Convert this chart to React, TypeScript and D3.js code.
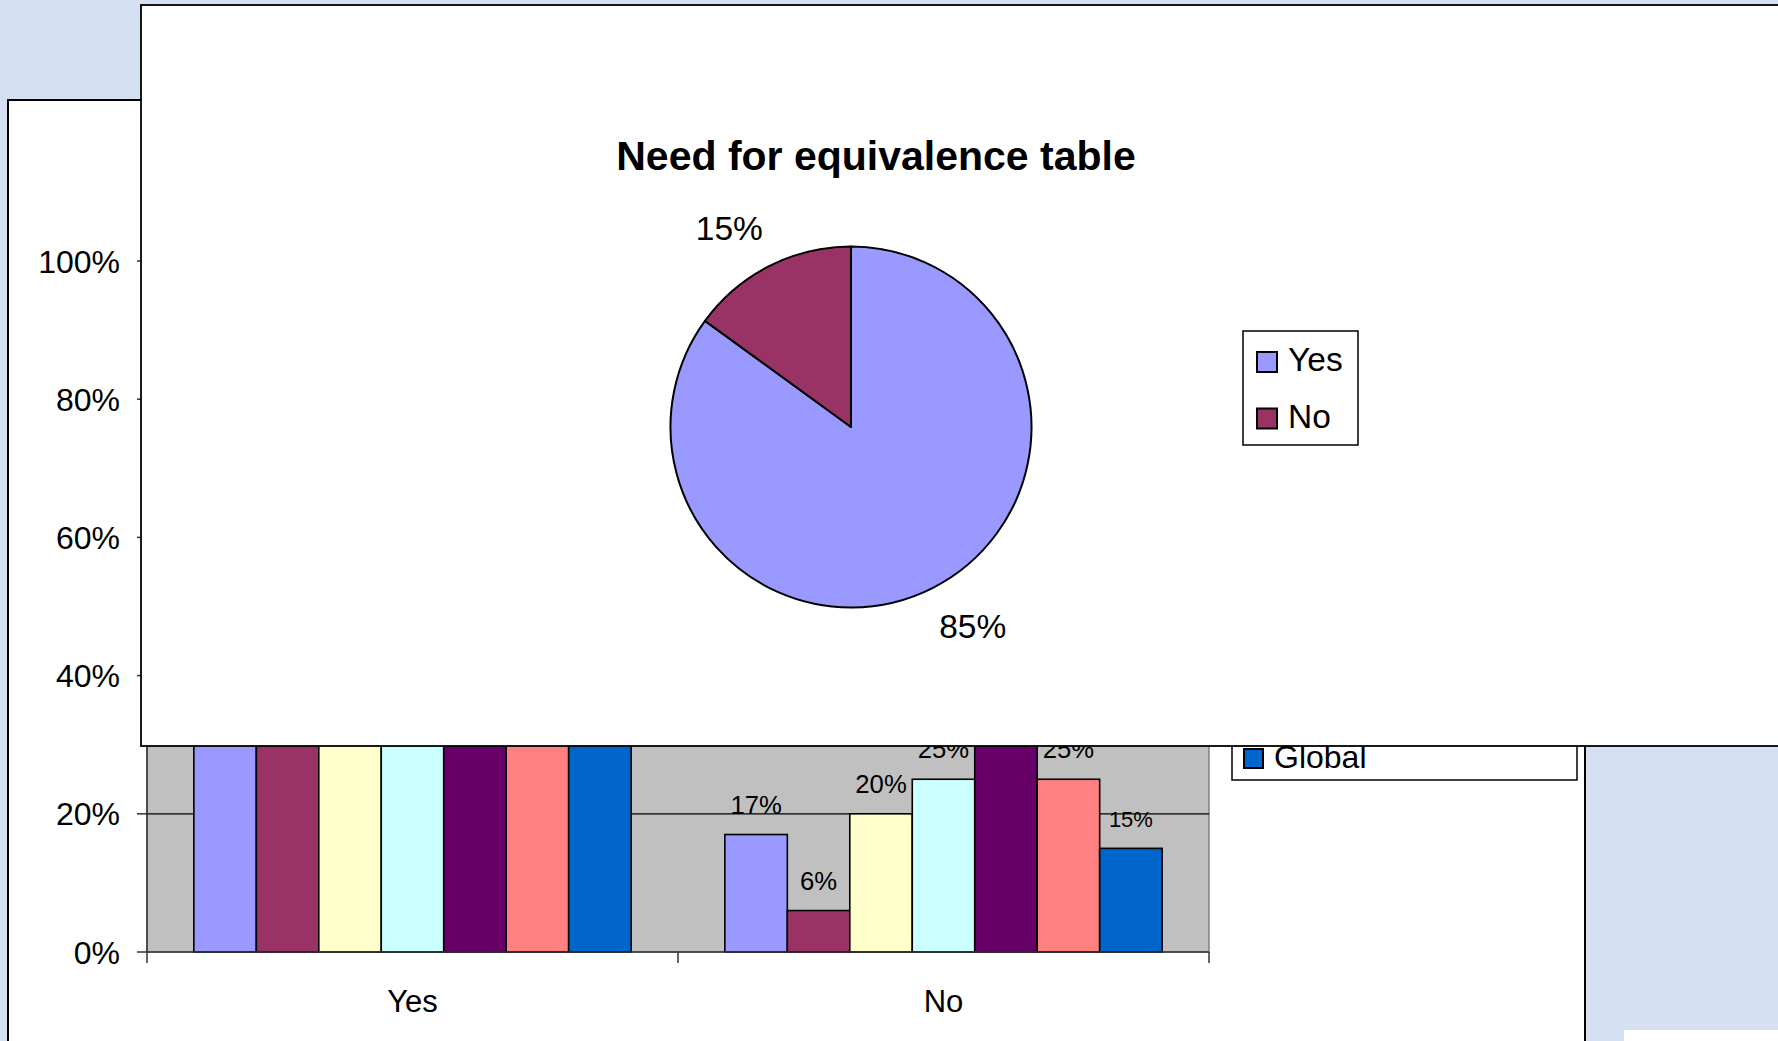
import React from "react";
import * as d3 from "d3";

// ---- Data ----
const categories = ["Yes", "No"];
const seriesNames = ["", "", "", "", "", "", "Global"];
const seriesColors = ["#9999FF", "#993366", "#FFFFCC", "#CCFFFF", "#660066", "#FF8080", "#0066CC"];
const yesValues = [0.83, 0.94, 0.8, 0.75, 0.67, 0.75, 0.85];
const noValues = [0.17, 0.06, 0.2, 0.25, 0.33, 0.25, 0.15];
const yTicks = [0, 0.2, 0.4, 0.6, 0.8, 1.0];

const pieTitle = "Need for equivalence table";
const pieLabels = ["Yes", "No"];
const pieValues = [0.85, 0.15];
const pieColors = ["#9999FF", "#993366"];

const FONT = "'Liberation Sans', Arial, Helvetica, sans-serif";
const BG = "#D5E0F3";

export default function App() {
  const W = 1778;
  const H = 1041;

  // ---- bar chart geometry ----
  const plotX0 = 147, plotX1 = 1209;
  const yScale = d3.scaleLinear().domain([0, 1]).range([952, 261]);
  const xBand = d3.scaleBand<string>().domain(categories).range([plotX0, plotX1]).padding(0);
  const inner = d3
    .scaleBand<number>()
    .domain(d3.range(seriesNames.length))
    .range([0, xBand.bandwidth()])
    .paddingInner(0)
    .paddingOuter(0.75);
  const groups = [yesValues, noValues];
  const pctFmt = d3.format(".0%");

  // ---- pie geometry ----
  const cx = 851, cy = 427, r = 180.5;
  const pie = d3.pie<number>().sort(null).value((d) => d)(pieValues);
  const arc = d3.arc<d3.PieArcDatum<number>>().innerRadius(0).outerRadius(r);
  const labelR = 233;
  const labelShift = -0.0785;

  const legendEntryH = 48;

  return (
    <svg
      width={W}
      height={H}
      style={{ position: "absolute", left: 0, top: 0 }}
      fontFamily={FONT}
    >
      <rect x={0} y={0} width={W} height={H} fill={BG} />
      <rect x={1624} y={1030} width={200} height={50} fill="#FFFFFF" />

      {/* ---- back panel: bar chart ---- */}
      <rect x={8} y={100} width={1577} height={1000} fill="#FFFFFF" stroke="#000" strokeWidth={2} />
      <rect x={plotX0} y={yScale(1)} width={plotX1 - plotX0} height={yScale(0) - yScale(1)} fill="#C0C0C0" stroke="#808080" strokeWidth={1.5} />
      {yTicks.filter((t) => t > 0).map((t) => (
        <line key={"g" + t} x1={plotX0} x2={plotX1} y1={yScale(t)} y2={yScale(t)} stroke="#000" strokeWidth={1.2} />
      ))}
      {groups.map((vals, gi) =>
        vals.map((v, si) => {
          const x = (xBand(categories[gi]) as number) + (inner(si) as number);
          return (
            <rect
              key={`b${gi}-${si}`}
              x={x}
              y={yScale(v)}
              width={inner.bandwidth()}
              height={yScale(0) - yScale(v)}
              fill={seriesColors[si]}
              stroke="#000"
              strokeWidth={1.6}
            />
          );
        })
      )}
      {groups.map((vals, gi) =>
        vals.map((v, si) => {
          const x = (xBand(categories[gi]) as number) + (inner(si) as number) + inner.bandwidth() / 2;
          return (
            <text
              key={`l${gi}-${si}`}
              x={x}
              y={yScale(v) - 21}
              textAnchor="middle"
              fontSize={si === seriesNames.length - 1 ? 22 : 25.7}
              fill="#000"
            >
              {pctFmt(v)}
            </text>
          );
        })
      )}
      {/* axes */}
      <line x1={plotX0} x2={plotX0} y1={yScale(1)} y2={yScale(0)} stroke="#333" strokeWidth={1.5} />
      <line x1={plotX0} x2={plotX1} y1={yScale(0)} y2={yScale(0)} stroke="#333" strokeWidth={1.5} />
      {yTicks.map((t) => (
        <g key={"yt" + t}>
          <line x1={plotX0 - 10} x2={plotX0} y1={yScale(t)} y2={yScale(t)} stroke="#333" strokeWidth={1.5} />
          <text x={120} y={yScale(t) + 11.5} textAnchor="end" fontSize={32} fill="#000">
            {pctFmt(t)}
          </text>
        </g>
      ))}
      {[...categories.map((c) => xBand(c) as number), plotX1].map((x, i) => (
        <line key={"xt" + i} x1={x} x2={x} y1={yScale(0)} y2={yScale(0) + 11} stroke="#333" strokeWidth={1.5} />
      ))}
      {categories.map((c) => (
        <text key={"c" + c} x={(xBand(c) as number) + xBand.bandwidth() / 2} y={1011.7} textAnchor="middle" fontSize={31} fill="#000">
          {c}
        </text>
      ))}
      {/* bar legend */}
      <rect
        x={1232}
        y={780 - legendEntryH * seriesNames.length - 12}
        width={345}
        height={legendEntryH * seriesNames.length + 12}
        fill="#FFFFFF"
        stroke="#000"
        strokeWidth={1.5}
      />
      {seriesNames.map((n, i) => {
        const yy = 749 - (seriesNames.length - 1 - i) * legendEntryH;
        return (
          <g key={"lg" + i}>
            <rect x={1244} y={yy} width={19} height={19} fill={seriesColors[i]} stroke="#000" strokeWidth={2} />
            {n && (
              <text x={1274} y={yy + 19} fontSize={32} fill="#000">
                {n}
              </text>
            )}
          </g>
        );
      })}

      {/* ---- front panel: pie chart ---- */}
      <rect x={141} y={5} width={1700} height={741} fill="#FFFFFF" stroke="#000" strokeWidth={1.8} />
      <text x={876} y={170} textAnchor="middle" fontSize={41} fontWeight="bold" fill="#000">
        {pieTitle}
      </text>
      <g transform={`translate(${cx},${cy})`}>
        {pie.map((p, i) => (
          <path key={"p" + i} d={arc(p) as string} fill={pieColors[i]} stroke="#000" strokeWidth={2} strokeLinejoin="round" />
        ))}
        {pie.map((p, i) => {
          const a = (p.startAngle + p.endAngle) / 2 + labelShift;
          const lx = labelR * Math.sin(a);
          const ly = -labelR * Math.cos(a);
          return (
            <text key={"pl" + i} x={lx} y={ly + 12} textAnchor="middle" fontSize={33.5} fill="#000">
              {pctFmt(p.data)}
            </text>
          );
        })}
      </g>
      {/* pie legend */}
      <rect x={1243} y={331} width={115} height={114} fill="#FFFFFF" stroke="#000" strokeWidth={1.5} />
      {pieLabels.map((l, i) => (
        <g key={"pleg" + i}>
          <rect x={1257} y={352 + i * 56.5} width={20} height={20} fill={pieColors[i]} stroke="#000" strokeWidth={2} />
          <text x={1288} y={370.7 + i * 57} fontSize={33.5} fill="#000">
            {l}
          </text>
        </g>
      ))}
    </svg>
  );
}
